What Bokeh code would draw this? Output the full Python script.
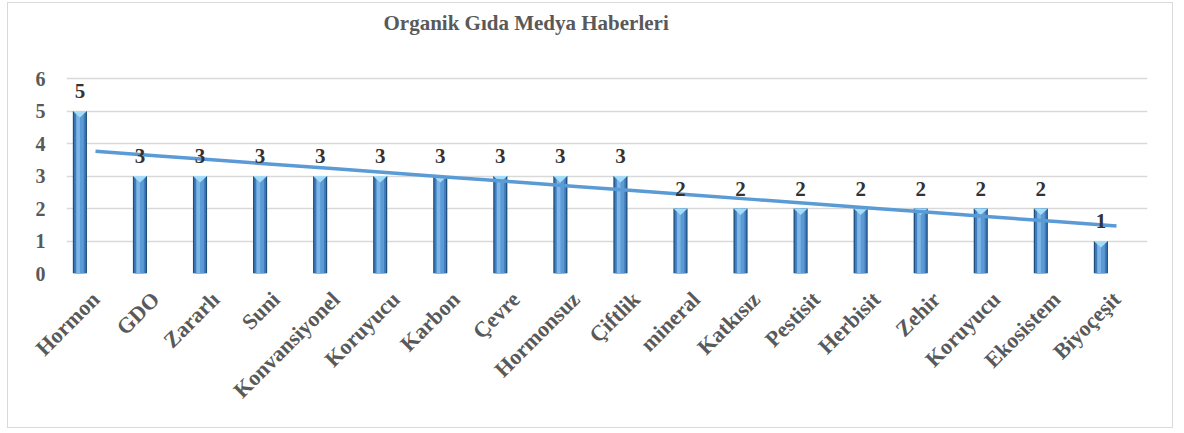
import numpy as np
from bokeh.plotting import figure
from bokeh.models import FixedTicker, Range1d, ColumnDataSource, LabelSet, Label
from bokeh.embed import file_html
from bokeh.resources import INLINE
from bokeh.core.properties import value
import math

title_text = "Organik Gıda Medya Haberleri"
categories = ["Hormon", "GDO", "Zararlı", "Suni", "Konvansiyonel", "Koruyucu", "Karbon",
              "Çevre", "Hormonsuz", "Çiftlik", "mineral", "Katkısız", "Pestisit",
              "Herbisit", "Zehir", "Koruyucu", "Ekosistem", "Biyoçeşit"]
counts = [5, 3, 3, 3, 3, 3, 3, 3, 3, 3, 2, 2, 2, 2, 2, 2, 2, 1]
y_ticks = [0, 1, 2, 3, 4, 5, 6]

FONT = "Liberation Serif"
GRAY = "#595959"

n = len(categories)
idx = np.arange(n)
bar_off = -0.26
bar_x = idx + bar_off
bw = 0.235
x_start, x_end = -0.483, 17.516
y_top_tick = 6
# frame extends above the top tick to leave room for the title (270px frame, 195px for 0..6)
y_start, y_end = 0, y_top_tick * 270 / 195

p = figure(width=1166, height=426, output_backend="svg", toolbar_location=None,
           title_location=None,
           x_range=Range1d(x_start, x_end), y_range=Range1d(y_start, y_end),
           min_border_left=58, min_border_right=27, min_border_top=0, min_border_bottom=156)
p.styles = {"border": "1px solid #d9d9d9", "margin": "2px 0 0 7px"}
p.outline_line_color = None

# title drawn inside the (extended) frame
p.add_layout(Label(x=x_start, y=y_top_tick, x_offset=317, y_offset=56, text=title_text,
                   text_align="left", text_baseline="middle",
                   text_font=FONT, text_font_size="21px", text_font_style="bold",
                   text_color=GRAY))

# grid
p.xgrid.grid_line_color = None
p.ygrid.grid_line_color = "#d9d9d9"
p.ygrid.grid_line_width = 1.5
p.yaxis.ticker = FixedTicker(ticks=y_ticks)
p.xaxis.ticker = FixedTicker(ticks=list(idx))
p.xaxis.major_label_overrides = {int(i): c for i, c in enumerate(categories)}

for ax in (p.xaxis[0], p.yaxis[0]):
    ax.axis_line_color = None
    ax.major_tick_line_color = None
    ax.minor_tick_line_color = None
    ax.major_label_text_font = FONT
    ax.major_label_text_font_style = "bold"
    ax.major_label_text_color = GRAY
p.yaxis.major_label_text_font_size = "20px"
p.xaxis.major_label_text_font_size = "22px"
p.yaxis.major_label_standoff = 15
p.xaxis.major_label_orientation = math.pi / 4
p.xaxis.major_label_standoff = 16

# bars: layered to mimic cylinder gradient
counts_arr = np.array(counts, dtype=float)
src = ColumnDataSource(dict(x=bar_x, top=counts_arr))
p.vbar(x="x", top="top", width=bw, bottom=0, source=src, fill_color="#1f4e79", line_color=None)
p.vbar(x="x", top="top", width=bw * 0.82, bottom=0, source=src, fill_color="#3f7cbf", line_color=None)
p.vbar(x="x", top="top", width=bw * 0.55, bottom=0, source=src, fill_color="#5b9bd5", line_color=None)
src2 = ColumnDataSource(dict(x=bar_x - bw * 0.12, top=counts_arr))
p.vbar(x="x", top="top", width=bw * 0.25, bottom=0, source=src2, fill_color="#7fb5e6", line_color=None)

# top triangle markers
d = 0.2
xs = [[x - bw / 2, x + bw / 2, x] for x in bar_x]
ys = [[v, v, v - d] for v in counts_arr]
p.patches(xs, ys, fill_color="#a6dcf5", line_color=None)

# trendline (linear fit)
slope, intercept = np.polyfit(idx, counts_arr, 1)
p.line(idx, slope * idx + intercept, line_color="#5b9bd5", line_width=3.5)

# data labels
lab = ColumnDataSource(dict(x=bar_x, y=counts_arr, t=[str(c) for c in counts]))
p.add_layout(LabelSet(x="x", y="y", text="t", source=lab, y_offset=13,
                      text_align="center", text_baseline="bottom",
                      text_font=value(FONT), text_font_style="bold",
                      text_font_size="21px", text_color="#333333"))

open("out.html", "w").write(file_html(p, INLINE))
